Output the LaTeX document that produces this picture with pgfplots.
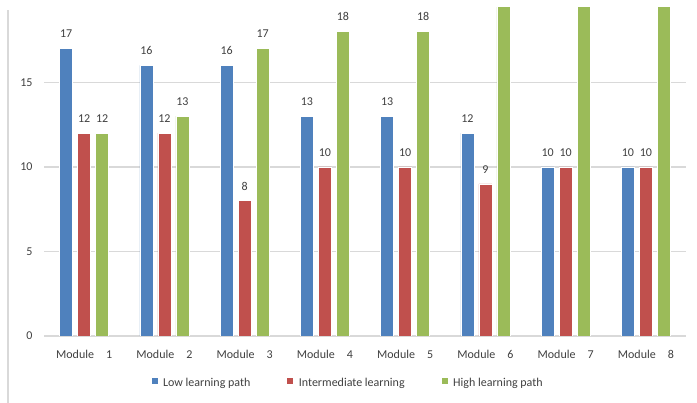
\documentclass[border=0pt]{standalone}
\usepackage{fontspec}
\setmainfont{Carlito}
\usepackage{pgfplots}
\pgfplotsset{compat=1.18}
\definecolor{cBlue}{HTML}{4F81BD}
\definecolor{cRed}{HTML}{C0504D}
\definecolor{cGreen}{HTML}{9BBB59}
\definecolor{cGrid}{HTML}{D9D9D9}
\definecolor{cText}{HTML}{404040}
\begin{document}
\begin{tikzpicture}[x=1pt,y=1pt]
\useasboundingbox (0,0) rectangle (697,403);
\fill[white] (0,0) rectangle (697,403);
\draw[cGrid, line width=1.5pt] (8,0) -- (8,393);
\begin{axis}[
  at={(44pt,67pt)}, anchor=south west,
  scale only axis, width=642pt, height=328pt,
  ybar=5pt, bar width=13pt,
  xmin=-0.5, xmax=7.5, ymin=0, ymax=19.4,
  xtick={0,...,7},
  xticklabels={Module\hspace{12pt}1,Module\hspace{12pt}2,Module\hspace{12pt}3,Module\hspace{12pt}4,Module\hspace{12pt}5,Module\hspace{12pt}6,Module\hspace{12pt}7,Module\hspace{12pt}8},
  ytick={0,5,10,15},
  ymajorgrids, major grid style={cGrid, line width=1.2pt},
  axis line style={draw=none},
  major tick length=0pt,
  tick label style={font=\fontsize{12}{14}\selectfont, text=cText},
  /pgf/number format/assume math mode=true,
  yticklabel style={xshift=-8pt},
  xticklabel style={yshift=-11pt},
  clip=true,
  point meta=explicit symbolic,
  nodes near coords,
  every node near coord/.append style={font=\fontsize{12}{14}\selectfont, text=cText, yshift=7pt},
  legend columns=3,
  legend style={at={(0.473,-0.143)}, anchor=center, draw=none, fill=none,
    font=\fontsize{12}{14}\selectfont, text=cText,
    /tikz/every odd column/.append style={column sep=3pt},
    /tikz/every even column/.append style={column sep=34pt}},
  legend image code/.code={\fill[#1] (0pt,-1.5pt) rectangle (7pt,5.5pt);},
]
\addplot[fill=cBlue, draw=white, line width=0.5pt] coordinates {
  (0,17) [17] (1,16) [16] (2,16) [16] (3,13) [13] (4,13) [13] (5,12) [12] (6,10) [10] (7,10) [10]};
\addplot[fill=cRed, draw=white, line width=0.5pt] coordinates {
  (0,12) [12] (1,12) [12] (2,8) [8] (3,10) [10] (4,10) [10] (5,9) [9] (6,10) [10] (7,10) [10]};
\addplot[fill=cGreen, draw=white, line width=0.5pt] coordinates {
  (0,12) [12] (1,13) [13] (2,17) [17] (3,18) [18] (4,18) [18] (5,20) [{}] (6,20) [{}] (7,20) [{}]};
\legend{Low learning path, Intermediate learning, High learning path}
\end{axis}
\end{tikzpicture}
\end{document}
